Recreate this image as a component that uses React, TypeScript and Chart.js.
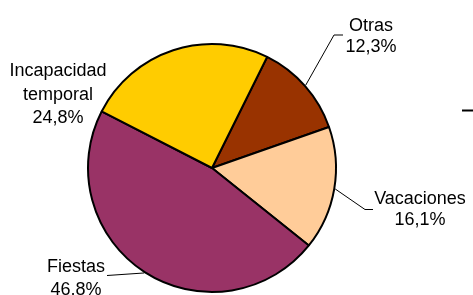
import React, { useEffect, useRef } from "react";
import { Chart, registerables } from "chart.js";

Chart.register(...registerables);

const categories = ["Otras", "Vacaciones", "Fiestas", "Incapacidad temporal"];
const categoryLines = [["Otras"], ["Vacaciones"], ["Fiestas"], ["Incapacidad", "temporal"]];
const values = [12.3, 16.1, 46.8, 24.8];
const colors = ["#993300", "#FFCC99", "#993366", "#FFCC00"];

// label layout: text centre x, first baseline y, line gap, leader elbow points (null = no leader)
const labelLayout = [
  { x: 371, y: 31, gap: 21, elbow: [334, 35], end: [343, 35] },
  { x: 420, y: 203.5, gap: 21.5, elbow: [365, 209.5], end: [373, 209.5] },
  { x: 76, y: 272, gap: 23, elbow: null, end: [107, 275.5] },
  { x: 58, y: 76, gap: 23.5, elbow: null, end: null },
];

const fmt = (v: number) => v.toFixed(1).replace(".", ",") + "%";

const labelPlugin = {
  id: "pieLabels",
  afterDraw(chart: any) {
    const ctx = chart.ctx;
    const meta = chart.getDatasetMeta(0);
    ctx.save();
    meta.data.forEach((arc: any, i: number) => {
      const p = arc.getProps(["x", "y", "startAngle", "endAngle", "outerRadius"], true);
      const mid = (p.startAngle + p.endAngle) / 2;
      const ex = p.x + Math.cos(mid) * (p.outerRadius + 1);
      const ey = p.y + Math.sin(mid) * (p.outerRadius + 1);
      const L = labelLayout[i];
      if (L.end) {
        ctx.beginPath();
        ctx.strokeStyle = "#000";
        ctx.lineWidth = 1;
        ctx.moveTo(ex, ey);
        if (L.elbow) ctx.lineTo(L.elbow[0], L.elbow[1]);
        ctx.lineTo(L.end[0], L.end[1]);
        ctx.stroke();
      }
      const lines = [...categoryLines[i], fmt(values[i])];
      ctx.fillStyle = "#000";
      ctx.font = '18px "Liberation Sans", Arial, sans-serif';
      ctx.textAlign = "center";
      ctx.textBaseline = "alphabetic";
      lines.forEach((t, k) => ctx.fillText(t, L.x, L.y + k * L.gap));
    });
    // small legend stroke fragment at the right edge
    ctx.beginPath();
    ctx.strokeStyle = "#000";
    ctx.lineWidth = 2;
    ctx.moveTo(462, 110.5);
    ctx.lineTo(473, 110.5);
    ctx.stroke();
    ctx.restore();
  },
};

export default function App() {
  const ref = useRef<HTMLCanvasElement>(null);
  useEffect(() => {
    document.body.style.margin = "0";
    const chart = new Chart(ref.current!, {
      type: "pie",
      data: {
        labels: categories,
        datasets: [
          {
            data: values,
            backgroundColor: colors,
            borderColor: "#000",
            borderWidth: 2,
          },
        ],
      },
      options: {
        animation: false,
        responsive: false,
        devicePixelRatio: 1,
        rotation: 26.4,
        layout: { padding: { left: 87, right: 136, top: 43, bottom: 2 } },
        plugins: { legend: { display: false }, tooltip: { enabled: false } },
      },
      plugins: [labelPlugin],
    });
    return () => chart.destroy();
  }, []);
  return (
    <div style={{ width: 473, height: 295, background: "#fff" }}>
      <canvas ref={ref} width={473} height={295} style={{ display: "block" }} />
    </div>
  );
}
